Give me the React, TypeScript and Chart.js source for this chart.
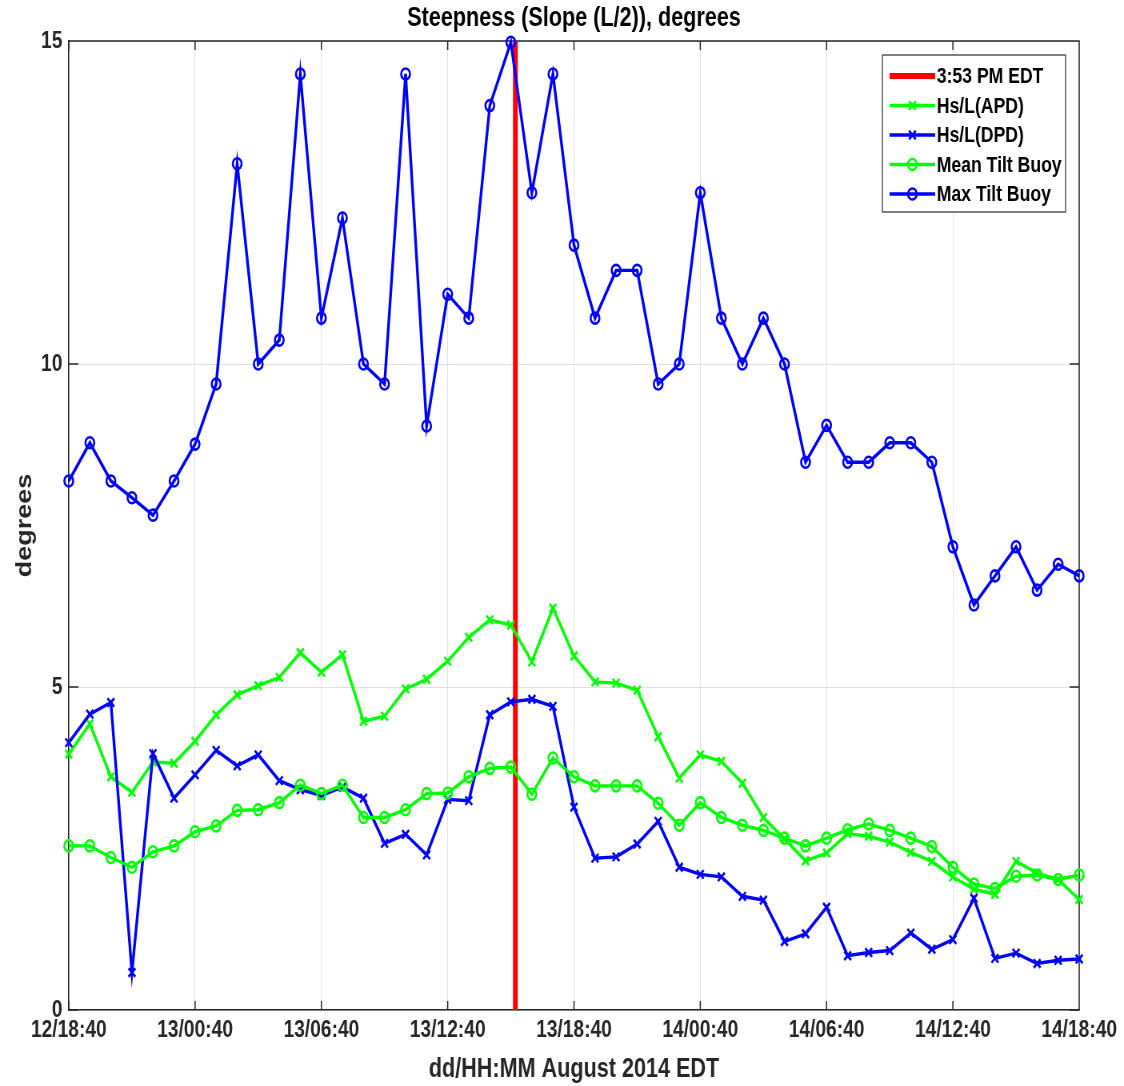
import React, { useEffect, useRef } from "react";
import { Chart, registerables } from "chart.js";

Chart.register(...registerables);

// ---- data ----
const hours = [
  0, 1, 2, 3, 4, 5, 6, 7, 8, 9, 10, 11, 12, 13, 14, 15, 16, 17, 18, 19, 20, 21, 22, 23, 24,
  25, 26, 27, 28, 29, 30, 31, 32, 33, 34, 35, 36, 37, 38, 39, 40, 41, 42, 43, 44, 45, 46, 47, 48,
];
const xTickHours = [0, 6, 12, 18, 24, 30, 36, 42, 48];
const xTickLabels = [
  "12/18:40", "13/00:40", "13/06:40", "13/12:40", "13/18:40",
  "14/00:40", "14/06:40", "14/12:40", "14/18:40",
];
const yTickValues = [0, 5, 10, 15];
const eventHour = 21.2167; // 13/15:53 EDT
const eventRange = [0, 15];

const hsApd = [
  3.96, 4.43, 3.61, 3.37, 3.84, 3.82, 4.16, 4.57, 4.88, 5.02, 5.15, 5.53, 5.23, 5.5, 4.47, 4.55,
  4.97, 5.12, 5.4, 5.77, 6.04, 5.96, 5.39, 6.22, 5.48, 5.08, 5.06, 4.95, 4.23, 3.59, 3.95, 3.85,
  3.51, 2.98, 2.65, 2.31, 2.43, 2.73, 2.69, 2.6, 2.44, 2.3, 2.06, 1.87, 1.79, 2.3, 2.12, 2.02, 1.71,
];
const hsDpd = [
  4.14, 4.58, 4.76, 0.58, 3.97, 3.28, 3.64, 4.02, 3.78, 3.95, 3.55, 3.41, 3.32, 3.45, 3.28, 2.58,
  2.72, 2.4, 3.26, 3.24, 4.57, 4.77, 4.81, 4.7, 3.14, 2.35, 2.37, 2.57, 2.92, 2.21, 2.1, 2.06,
  1.76, 1.7, 1.06, 1.18, 1.59, 0.84, 0.89, 0.92, 1.19, 0.94, 1.09, 1.73, 0.8, 0.88, 0.72, 0.77, 0.79,
];
const meanTilt = [
  2.54, 2.54, 2.36, 2.21, 2.45, 2.54, 2.76, 2.85, 3.09, 3.1, 3.21, 3.48, 3.35, 3.48, 2.98, 2.98,
  3.1, 3.35, 3.36, 3.61, 3.74, 3.76, 3.34, 3.9, 3.61, 3.47, 3.47, 3.47, 3.2, 2.86, 3.21, 2.98,
  2.86, 2.78, 2.66, 2.54, 2.66, 2.79, 2.88, 2.78, 2.66, 2.53, 2.21, 1.95, 1.88, 2.07, 2.09, 2.02, 2.09,
];
const maxTilt = [
  8.19, 8.78, 8.19, 7.93, 7.66, 8.19, 8.76, 9.69, 13.1, 10.0, 10.37, 14.49, 10.71, 12.26, 10.0, 9.69,
  14.49, 9.04, 11.08, 10.71, 14.0, 14.98, 12.65, 14.49, 11.84, 10.71, 11.45, 11.45, 9.69, 10.0, 12.65, 10.71,
  10.0, 10.71, 10.0, 8.48, 9.05, 8.48, 8.48, 8.78, 8.78, 8.48, 7.17, 6.27, 6.72, 7.17, 6.5, 6.9, 6.72,
];

const seriesNames = ["3:53 PM EDT", "Hs/L(APD)", "Hs/L(DPD)", "Mean Tilt Buoy", "Max Tilt Buoy"];

const RED = "#ff0000";
const GREEN = "#00ff00";
const BLUE = "#0000ff";
const INK = "#262626";
const FAMILY = '"Liberation Sans", Arial, Helvetica, sans-serif';

// the reference image is horizontally squeezed; draw on a wider canvas and scale it down
const VIEW_W = 1124;
const VIEW_H = 1086;
const SQUEEZE = 0.8;
const CANVAS_W = Math.round(VIEW_W / SQUEEZE);

function drawMarker(ctx: CanvasRenderingContext2D, kind: string, x: number, y: number, color: string) {
  ctx.save();
  ctx.strokeStyle = color;
  ctx.lineWidth = 2.6;
  ctx.beginPath();
  if (kind === "crossRot") {
    const o = 6 * Math.cos(Math.PI / 4);
    ctx.moveTo(x - o, y - o);
    ctx.lineTo(x + o, y + o);
    ctx.moveTo(x + o, y - o);
    ctx.lineTo(x - o, y + o);
  } else if (kind === "circle") {
    ctx.arc(x, y, 5.5, 0, Math.PI * 2);
  }
  ctx.stroke();
  ctx.restore();
}

export default function App() {
  const ref = useRef<HTMLCanvasElement>(null);

  useEffect(() => {
    document.body.style.margin = "0";
    const canvas = ref.current!;
    const toXY = (vals: number[]) => vals.map((v, i) => ({ x: hours[i], y: v }));

    const legendItems = [
      { label: seriesNames[0], color: RED, marker: "", width: 6 },
      { label: seriesNames[1], color: GREEN, marker: "crossRot", width: 3.4 },
      { label: seriesNames[2], color: BLUE, marker: "crossRot", width: 3.4 },
      { label: seriesNames[3], color: GREEN, marker: "circle", width: 3.4 },
      { label: seriesNames[4], color: BLUE, marker: "circle", width: 3.4 },
    ];

    const framePlugin = {
      id: "matlabFrame",
      beforeDatasetsDraw(chart: any) {
        const { ctx, chartArea: ca } = chart;
        const xs = chart.scales.x;
        const ys = chart.scales.y;
        ctx.save();
        ctx.strokeStyle = INK;
        ctx.lineWidth = 1.5;
        ctx.beginPath();
        ctx.moveTo(ca.left, ca.top);
        ctx.lineTo(ca.right, ca.top);
        ctx.lineTo(ca.right, ca.bottom);
        for (const v of xTickHours) {
          const px = xs.getPixelForValue(v);
          ctx.moveTo(px, ca.bottom);
          ctx.lineTo(px, ca.bottom - 9);
          ctx.moveTo(px, ca.top);
          ctx.lineTo(px, ca.top + 9);
        }
        for (const v of yTickValues) {
          const py = ys.getPixelForValue(v);
          ctx.moveTo(ca.left, py);
          ctx.lineTo(ca.left + 12, py);
          ctx.moveTo(ca.right, py);
          ctx.lineTo(ca.right - 12, py);
        }
        ctx.stroke();
        ctx.restore();
      },
      afterDraw(chart: any) {
        const ctx: CanvasRenderingContext2D = chart.ctx;
        const bx = 1103, by = 55, bw = 229, bh = 157;
        const lx0 = 1112, lx1 = 1169, tx = 1171;
        const rowY0 = 76, rowStep = 29.5;
        ctx.save();
        ctx.fillStyle = "#ffffff";
        ctx.fillRect(bx, by, bw, bh);
        ctx.strokeStyle = "#333333";
        ctx.lineWidth = 1.25;
        ctx.strokeRect(bx, by, bw, bh);
        legendItems.forEach((it, i) => {
          const y = rowY0 + i * rowStep;
          ctx.strokeStyle = it.color;
          ctx.lineWidth = it.width;
          ctx.beginPath();
          ctx.moveTo(lx0, y);
          ctx.lineTo(lx1, y);
          ctx.stroke();
          if (it.marker) drawMarker(ctx, it.marker, (lx0 + lx1) / 2, y, it.color);
          ctx.fillStyle = "#000000";
          ctx.font = `bold 22px ${FAMILY}`;
          ctx.textAlign = "left";
          ctx.textBaseline = "middle";
          ctx.fillText(it.label, tx, y + 1);
        });
        ctx.restore();
      },
    };

    const seriesStyle = (color: string, style: string) => ({
      borderColor: color,
      backgroundColor: color,
      borderWidth: 3.4,
      pointStyle: style,
      pointRadius: style === "circle" ? 5.5 : 6,
      pointBorderWidth: 2.6,
      pointBorderColor: color,
      pointBackgroundColor: "rgba(0,0,0,0)",
      clip: false as any,
      tension: 0,
    });

    const tickFont = { family: FAMILY, size: 24, weight: "bold" as const };
    const titleFont = { family: FAMILY, size: 27, weight: "bold" as const, lineHeight: 1.2 };

    const chart = new Chart(canvas, {
      type: "line",
      data: {
        datasets: [
          {
            label: seriesNames[0],
            data: eventRange.map((y) => ({ x: eventHour, y })),
            borderColor: RED,
            backgroundColor: RED,
            borderWidth: 6,
            pointRadius: 0,
            order: 5,
          },
          { label: seriesNames[1], data: toXY(hsApd), ...seriesStyle(GREEN, "crossRot"), order: 4 },
          { label: seriesNames[2], data: toXY(hsDpd), ...seriesStyle(BLUE, "crossRot"), order: 3 },
          { label: seriesNames[3], data: toXY(meanTilt), ...seriesStyle(GREEN, "circle"), order: 2 },
          { label: seriesNames[4], data: toXY(maxTilt), ...seriesStyle(BLUE, "circle"), order: 1 },
        ] as any,
      },
      options: {
        responsive: false,
        animation: false,
        devicePixelRatio: 1,
        events: [],
        layout: { padding: { left: 0, right: 56, top: 0, bottom: 0 } },
        plugins: {
          legend: { display: false },
          tooltip: { enabled: false },
          title: {
            display: true,
            text: "Steepness (Slope (L/2)), degrees",
            fullSize: false,
            color: "#000000",
            font: titleFont,
            padding: { top: 2, bottom: 6.6 },
          },
        },
        scales: {
          x: {
            type: "linear",
            min: 0,
            max: 48,
            ticks: {
              stepSize: 6,
              autoSkip: false,
              maxRotation: 0,
              minRotation: 0,
              padding: 6,
              color: INK,
              font: tickFont,
              callback: (v: any) => {
                const k = xTickHours.indexOf(Number(v));
                return k >= 0 ? xTickLabels[k] : "";
              },
            },
            grid: { color: "#e0e0e0", lineWidth: 1, drawTicks: false },
            border: { color: INK, width: 1.5 },
            title: {
              display: true,
              text: "dd/HH:MM August 2014 EDT",
              color: INK,
              font: titleFont,
              padding: { top: 0, bottom: 0 },
            },
            afterFit: (s: any) => {
              s.height = 76;
            },
          },
          y: {
            type: "linear",
            min: 0,
            max: 15,
            ticks: {
              stepSize: 5,
              padding: 8,
              color: INK,
              font: tickFont,
            },
            grid: { color: "#e0e0e0", lineWidth: 1, drawTicks: false },
            border: { color: INK, width: 1.5 },
            title: {
              display: true,
              text: "degrees",
              color: INK,
              font: titleFont,
              padding: { top: 15, bottom: 0 },
            },
            afterFit: (s: any) => {
              s.width = 86;
            },
          },
        },
      } as any,
      plugins: [framePlugin],
    });

    return () => chart.destroy();
  }, []);

  return (
    <div style={{ position: "absolute", left: 0, top: 0, width: VIEW_W, height: VIEW_H, background: "#fff" }}>
      <canvas
        ref={ref}
        width={CANVAS_W}
        height={VIEW_H}
        style={{ width: `${VIEW_W}px`, height: `${VIEW_H}px`, display: "block" }}
      />
    </div>
  );
}
